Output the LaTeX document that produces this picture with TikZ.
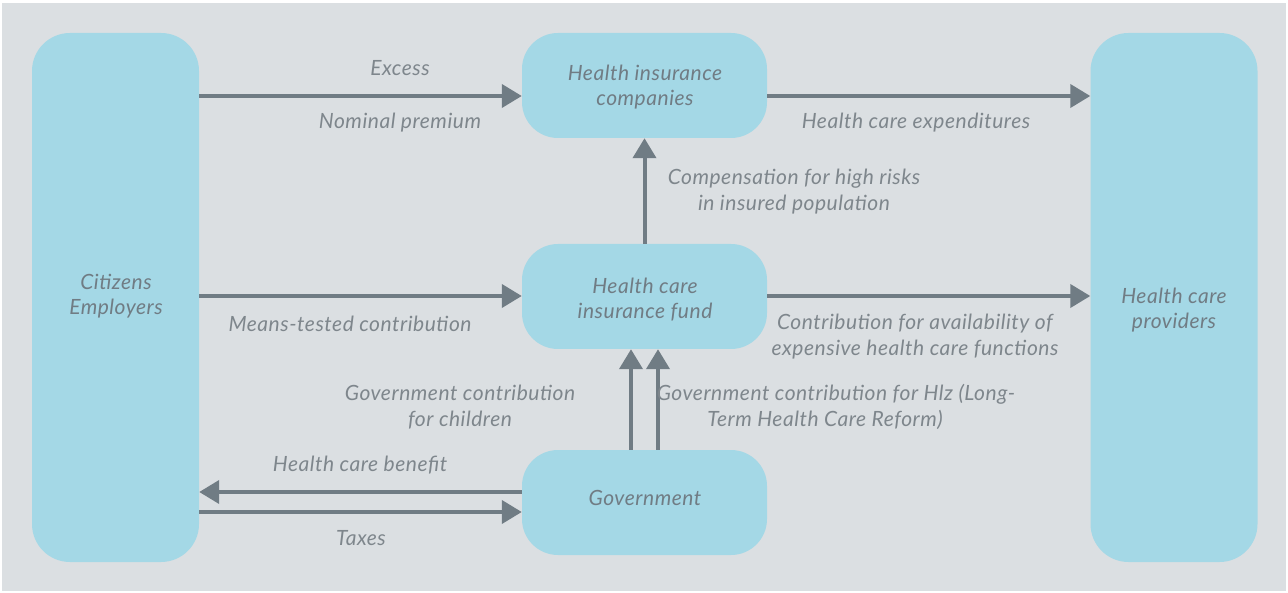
\documentclass[tikz,border=0pt]{standalone}
\usepackage{fontspec}
\setmainfont{Lato}
\newfontfamily\labfont[LetterSpace=2.5]{Lato}
\usetikzlibrary{arrows.meta}
\definecolor{bg}{RGB}{219,223,226}
\definecolor{boxblue}{RGB}{164,216,230}
\definecolor{arrowgray}{RGB}{112,124,132}
\definecolor{txtgray}{RGB}{126,134,140}
\tikzset{
  box/.style={fill=boxblue, draw=none, rounded corners=38pt, inner sep=0pt},
  tallbox/.style={box, minimum width=167pt, minimum height=529pt},
  midbox/.style={box, minimum width=245pt, minimum height=105pt, rounded corners=36pt},
  boxtext/.style={font=\labfont\fontsize{21}{25}\selectfont\itshape, text=arrowgray, align=center, inner sep=0pt},
  lbl/.style={font=\labfont\fontsize{21}{26}\selectfont\itshape, text=txtgray, align=center, inner sep=0pt},
  flow/.style={draw=arrowgray, line width=4pt, -{Triangle[length=20pt,width=23pt]}},
}
\begin{document}
\begin{tikzpicture}[x=1pt,y=-1pt]
\useasboundingbox (0,0) rectangle (1288,593);
\fill[white] (0,0) rectangle (1288,593);
\fill[bg] (2,3) rectangle (1286,591);

\node[tallbox] (cit) at (115.5,297.5) {};
\node[tallbox] (prov) at (1174,297.5) {};
\node[midbox] (hic) at (644.5,85.5) {};
\node[midbox] (fund) at (644.5,296.5) {};
\node[midbox] (gov) at (644.5,502.5) {};

\node[boxtext] (citT) at (116,296) {Citizens\\Employers};
\node[boxtext] (provT) at (1174,310) {Health care\\providers};
\node[boxtext] (hicT) at (645,87) {Health insurance\\companies};
\node[boxtext] (fundT) at (645,299.5) {Health care\\insurance fund};
\node[boxtext] (govT) at (645,498) {Government};

\coordinate (c96) at (cit.east |- 0,96);
\coordinate (c296) at (cit.east |- 0,296);
\coordinate (c492) at (cit.east |- 0,492);
\coordinate (c512) at (cit.east |- 0,512);
\coordinate (p96) at (prov.west |- 0,96);
\coordinate (p296) at (prov.west |- 0,296);

\draw[flow] (c96) -- (hic.west |- c96);
\draw[flow] (hic.east |- p96) -- (p96);
\draw[flow] (c296) -- (fund.west |- c296);
\draw[flow] (fund.east |- p296) -- (p296);
\draw[flow] (fund.north) -- (hic.south);
\draw[flow] ([xshift=-13.5pt]gov.north) -- ([xshift=-13.5pt]fund.south);
\draw[flow] ([xshift=13.5pt]gov.north) -- ([xshift=13.5pt]fund.south);
\draw[flow] (gov.west |- c492) -- (c492);
\draw[flow] (c512) -- (gov.west |- c512);

\node[lbl] (l1) at (400,68) {Excess};
\node[lbl] (l2) at (400,123) {Nominal premium};
\node[lbl] (l3) at (916,123) {Health care expenditures};
\node[lbl] (l4) at (794,192) {Compensation for high risks\\in insured population};
\node[lbl] (l5) at (350,324) {Means-tested contribution};
\node[lbl] (l6) at (915,337) {Contribution for availability of\\expensive health care functions};
\node[lbl] (l7) at (460,407) {Government contribution\\for children};
\node[lbl] (l8) at (836,407) {Government contribution for Hlz (Long-\\Term Health Care Reform)\hspace*{22pt}};
\node[lbl] (l9) at (360,465) {Health care benefit};
\node[lbl] (l10) at (361,538) {Taxes};
\end{tikzpicture}
\end{document}
